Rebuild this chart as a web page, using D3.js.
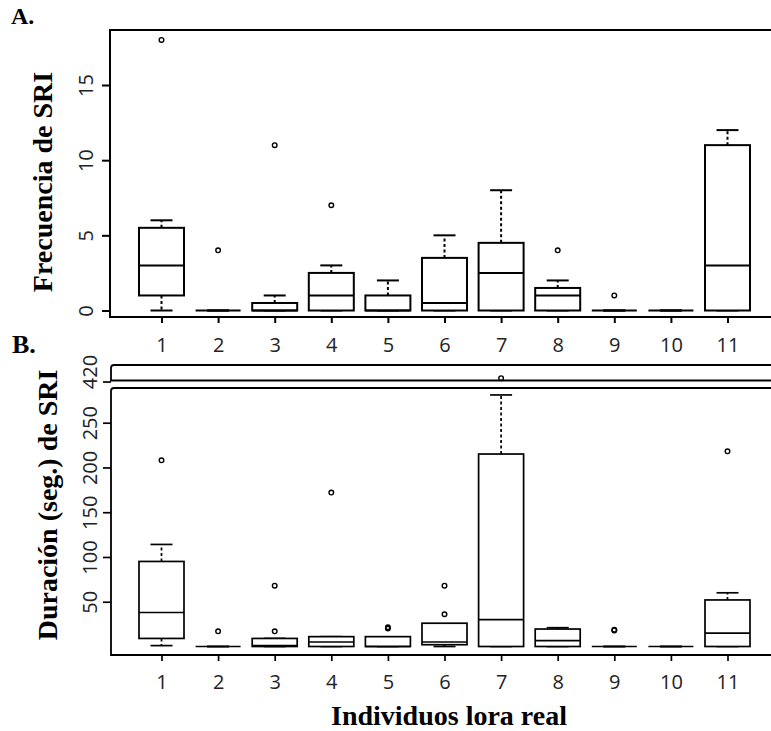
<!DOCTYPE html>
<html><head><meta charset="utf-8">
<script src="https://cdn.jsdelivr.net/npm/d3@7"></script>
<style>body{margin:0;background:#fff}</style>
</head><body>
<svg id="c" width="771" height="731"></svg>
<script>
const individuals = [1,2,3,4,5,6,7,8,9,10,11];
// Panel A: Frecuencia de SRI
const freqLow    = [0,0,0,0,0,0,0,0,0,0,0];
const freqQ1     = [1,0,0,0,0,0,0,0,0,0,0];
const freqMedian = [3,0,0,1,0,0.5,2.5,1,0,0,3];
const freqQ3     = [5.5,0,0.5,2.5,1,3.5,4.5,1.5,0,0,11];
const freqHigh   = [6,0,1,3,2,5,8,2,0,0,12];
const freqOutliers = [[18],[4],[11],[7],[],[],[],[4],[1],[],[]];
const freqTicks = [0,5,10,15];
// Panel B: Duración (seg.) de SRI
const durLow    = [1,0,0,0,0,0,0,0,0,0,0];
const durQ1     = [9,0,0,0,0,2,0,0,0,0,0];
const durMedian = [38,0,1,5,0,5,30,6.5,0,0,15];
const durQ3     = [95,0,9,11,11,26,215,19.5,0,0,52];
const durHigh   = [114,0,9,11,5.5,14,281,21,0,0,60];
const durOutliers = [[208],[17],[17,68],[172],[20,21.5],[36,68],[],[],[18,18.8],[],[218]];
const durOutliersBreak = [[],[],[],[],[],[],[424],[],[],[],[]];
const durTicks = [50,100,150,200,250];
const durBreakTicks = [420];

const svg = d3.select("#c");
const tickFont = "'Open Sans', 'Noto Sans', sans-serif";
const titleFont = "'Liberation Serif', 'Times New Roman', serif";

const x = d3.scalePoint().domain(individuals).range([161.5, 727.5]);
const boxW = 45, capW = 22;

function drawBoxes(g, y, low, q1, med, q3, high, outs, sw) {
  individuals.forEach((d, i) => {
    const cx = x(d);
    const gg = g.append("g");
    // whiskers
    [[q3[i], high[i]], [q1[i], low[i]]].forEach(([a, b]) => {
      if (a !== b) {
        gg.append("line").attr("x1", cx).attr("x2", cx)
          .attr("y1", y(a)).attr("y2", y(b))
          .attr("stroke", "#000").attr("stroke-width", sw).attr("stroke-dasharray", "3,2.5");
      }
      gg.append("line").attr("x1", cx - capW/2).attr("x2", cx + capW/2)
        .attr("y1", y(b)).attr("y2", y(b))
        .attr("stroke", "#000").attr("stroke-width", sw);
    });
    gg.append("rect").attr("x", cx - boxW/2).attr("width", boxW)
      .attr("y", y(q3[i])).attr("height", Math.max(0, y(q1[i]) - y(q3[i])))
      .attr("fill", "#fff").attr("stroke", "#000").attr("stroke-width", sw);
    gg.append("line").attr("x1", cx - boxW/2).attr("x2", cx + boxW/2)
      .attr("y1", y(med[i])).attr("y2", y(med[i]))
      .attr("stroke", "#000").attr("stroke-width", sw);
    outs[i].forEach(v => {
      gg.append("circle").attr("cx", cx).attr("cy", y(v)).attr("r", 2.3)
        .attr("fill", "none").attr("stroke", "#000").attr("stroke-width", 1.4);
    });
  });
}

function yAxis(g, y, ticks, labelX, sw) {
  const ax = g.append("g").call(d3.axisLeft(y).tickValues(ticks).tickSize(8).tickFormat(d3.format("d")));
  ax.select(".domain").remove();
  ax.selectAll(".tick line").attr("stroke", "#000").attr("stroke-width", sw);
  ax.selectAll(".tick text").attr("x", null).attr("dy", null)
    .attr("transform", `translate(${labelX},0) rotate(-90)`)
    .attr("text-anchor", "middle").attr("fill", "#222")
    .style("font-family", tickFont).style("font-size", "20px");
  return ax;
}

function xAxis(g, yPos, labelY, sw) {
  const ax = g.append("g").attr("transform", `translate(0,${yPos})`)
    .call(d3.axisBottom(x).tickSize(6));
  ax.select(".domain").remove();
  ax.selectAll(".tick line").attr("stroke", "#000").attr("stroke-width", sw);
  ax.selectAll(".tick text").attr("y", labelY).attr("dy", null).attr("fill", "#222")
    .style("font-family", tickFont).style("font-size", "20px");
}

// ---------- Panel A ----------
const yA = d3.scaleLinear().domain([0, 15]).range([310.5, 85]);
const gA = svg.append("g");
const aL = 110, aT = 30, aB = 317, R = 776;
gA.append("path").attr("d", `M${R},${aT}H${aL}V${aB}H${R}`)
  .attr("fill", "none").attr("stroke", "#000").attr("stroke-width", 2);
drawBoxes(gA, yA, freqLow, freqQ1, freqMedian, freqQ3, freqHigh, freqOutliers, 2);
gA.append("g").attr("transform", `translate(${aL},0)`).call(g => yAxis(g, yA, freqTicks, -17, 2));
xAxis(gA, aB, 35, 2);
gA.append("text").attr("transform", "translate(52,182) rotate(-90)").attr("text-anchor", "middle")
  .style("font-family", titleFont).style("font-weight", "bold").style("font-size", "28px")
  .text("Frecuencia de SRI");
gA.append("text").attr("x", 11).attr("y", 24)
  .style("font-family", titleFont).style("font-weight", "bold").style("font-size", "24px").text("A.");

// ---------- Panel B ----------
const yB = d3.scaleLinear().domain([0, 250]).range([646.5, 422.7]);
const yBt = d3.scaleLinear().domain([420, 440]).range([381.5, 365]);
const gB = svg.append("g");
const bL = 111, bT1 = 365, bB1 = 380.5, bT2 = 388, bB2 = 655;
gB.append("path").attr("d", `M${R},${bT1}H${bL+3}Q${bL},${bT1} ${bL},${bT1+3}V${bB1}H${R}`)
  .attr("fill", "none").attr("stroke", "#000").attr("stroke-width", 1.8);
gB.append("path").attr("d", `M${R},${bT2}H${bL+3}Q${bL},${bT2} ${bL},${bT2+3}V${bB2}H${R}`)
  .attr("fill", "none").attr("stroke", "#000").attr("stroke-width", 1.8);
drawBoxes(gB, yB, durLow, durQ1, durMedian, durQ3, durHigh, durOutliers, 1.7);
individuals.forEach((d, i) => {
  durOutliersBreak[i].forEach(v => {
    gB.append("circle").attr("cx", x(d)).attr("cy", yBt(v)).attr("r", 2.3)
      .attr("fill", "none").attr("stroke", "#000").attr("stroke-width", 1.4);
  });
});
gB.append("g").attr("transform", `translate(${bL},0)`).call(g => yAxis(g, yB, durTicks, -14, 1.7));
const brk = gB.append("g").attr("transform", `translate(${bL},0)`).call(g => yAxis(g, yBt, durBreakTicks, -14, 1.7));
brk.selectAll(".tick text").attr("transform", `translate(-14,-10) rotate(-90)`);
xAxis(gB, bB2, 34, 1.7);
gB.append("text").attr("transform", "translate(57,505) rotate(-90)").attr("text-anchor", "middle")
  .style("font-family", titleFont).style("font-weight", "bold").style("font-size", "28px")
  .text("Duración (seg.) de SRI");
gB.append("text").attr("x", 12).attr("y", 353)
  .style("font-family", titleFont).style("font-weight", "bold").style("font-size", "26px").text("B.");
gB.append("text").attr("x", 449).attr("y", 725).attr("text-anchor", "middle")
  .style("font-family", titleFont).style("font-weight", "bold").style("font-size", "28px")
  .text("Individuos lora real");
</script>
</body></html>
